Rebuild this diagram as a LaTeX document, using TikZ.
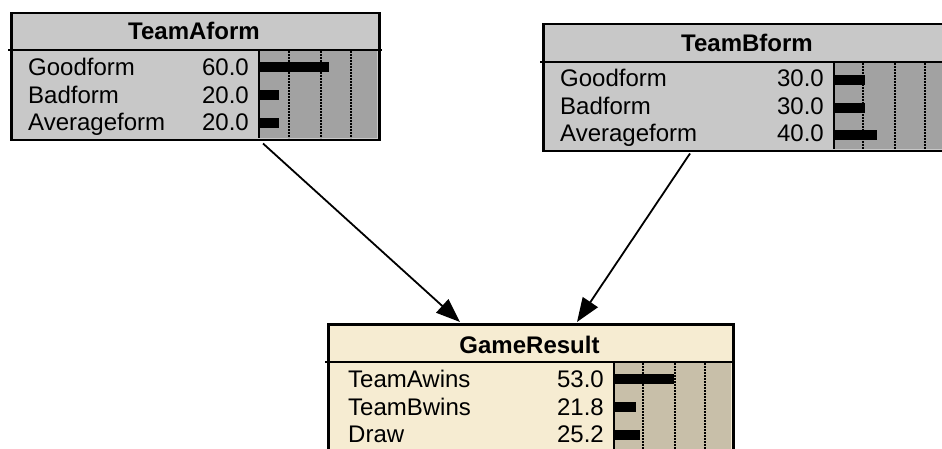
\documentclass[tikz,border=0pt]{standalone}
\usepackage{fontspec}
\setmainfont{Liberation Sans}
\usetikzlibrary{arrows.meta, positioning, calc}
\definecolor{nodegray}{RGB}{200,200,200}
\definecolor{bargray}{RGB}{162,162,162}
\definecolor{nodecream}{RGB}{246,236,210}
\definecolor{barcream}{RGB}{200,191,169}
\newcommand{\netfont}{\fontsize{24}{27}\selectfont}

\begin{document}
\begin{tikzpicture}[x=1pt, y=-1pt,
    netbox/.style={draw, line width=2.5pt, inner sep=0pt, anchor=north west},
    title/.style={font=\netfont\bfseries, anchor=base, inner sep=0pt},
    state/.style={font=\netfont, anchor=base west, inner sep=0pt},
    prob/.style={font=\netfont, anchor=base east, inner sep=0pt},
    bar/.style={fill=black},
    gridline/.style={dash pattern=on 2pt off 1pt, line width=1.4pt},
    link/.style={line width=1.8pt, -{Triangle[length=24pt, width=18pt]}}]
    \clip (0,0) rectangle (942,449);

    % TeamAform
    \node[netbox, fill=nodegray, minimum width=368, minimum height=127] (teamA) at (10,12) {};
    \fill[bargray] (259,50) rectangle (377,138);
    \draw[line width=2.5pt] (8,50) -- (382,50);
    \draw[line width=1.8pt] (259,50) -- (259,138);
    \draw[gridline] (289,51) -- (289,138);
    \draw[gridline] (321,51) -- (321,138);
    \draw[gridline] (351,51) -- (351,138);
    \node[title] (teamAtitle) at (194,40) {TeamAform};
    \node[state] (aGood) at (28,76) {Goodform};
    \node[prob] (aGoodp) at (249,76) {60.0};
    \fill[bar] (260,62) rectangle (329,72);
    \node[state] (aBad) at (28,104) {Badform};
    \node[prob] (aBadp) at (249,104) {20.0};
    \fill[bar] (260,90) rectangle (279,100);
    \node[state] (aAvg) at (28,131) {Averageform};
    \node[prob] (aAvgp) at (249,131) {20.0};
    \fill[bar] (260,118) rectangle (279,128);

    % TeamBform
    \node[netbox, fill=nodegray, minimum width=410, minimum height=127] (teamB) at (542,23) {};
    \fill[bargray] (834,62) rectangle (951,149);
    \draw[line width=2.5pt] (540,62) -- (960,62);
    \draw[line width=1.8pt] (834,62) -- (834,149);
    \draw[gridline] (863,63) -- (863,149);
    \draw[gridline] (895,63) -- (895,149);
    \draw[gridline] (925,63) -- (925,149);
    \node[title] (teamBtitle) at (747,52) {TeamBform};
    \node[state] (bGood) at (560,87) {Goodform};
    \node[prob] (bGoodp) at (824,87) {30.0};
    \fill[bar] (835,75) rectangle (865,85);
    \node[state] (bBad) at (560,115) {Badform};
    \node[prob] (bBadp) at (824,115) {30.0};
    \fill[bar] (835,103) rectangle (865,113);
    \node[state] (bAvg) at (560,142) {Averageform};
    \node[prob] (bAvgp) at (824,142) {40.0};
    \fill[bar] (835,130) rectangle (877,140);

    % GameResult
    \node[netbox, fill=nodecream, minimum width=405, minimum height=140] (game) at (327,323) {};
    \fill[barcream] (614,362) rectangle (731,462);
    \draw[line width=2.5pt] (325,362) -- (735,362);
    \draw[line width=1.8pt] (614,362) -- (614,462);
    \draw[gridline] (643,363) -- (643,462);
    \draw[gridline] (675,363) -- (675,462);
    \draw[gridline] (705,363) -- (705,462);
    \node[title] (gameTitle) at (529.5,353) {GameResult};
    \node[state] (cAwins) at (348,387) {TeamAwins};
    \node[prob] (cAwinsp) at (604,387) {53.0};
    \fill[bar] (615,374) rectangle (674,384);
    \node[state] (cBwins) at (348,415) {TeamBwins};
    \node[prob] (cBwinsp) at (604,415) {21.8};
    \fill[bar] (615,402) rectangle (636,412);
    \node[state] (cDraw) at (348,442) {Draw};
    \node[prob] (cDrawp) at (604,442) {25.2};
    \fill[bar] (615,430) rectangle (640,440);

    % links
    \draw[link] ($(teamA.south west)+(253,2)$) -- ($(game.north west)+(133,-1)$);
    \draw[link] ($(teamB.south west)+(148,1)$) -- ($(game.north west)+(250,-1)$);
\end{tikzpicture}
\end{document}
